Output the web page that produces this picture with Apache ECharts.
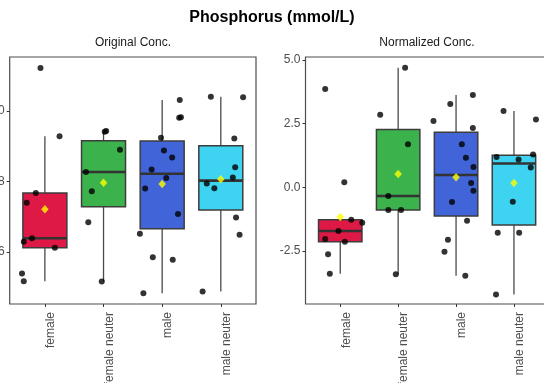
<!DOCTYPE html>
<html>
<head>
<meta charset="utf-8">
<title>Phosphorus (mmol/L)</title>
<script src="https://cdn.jsdelivr.net/npm/echarts@6/dist/echarts.min.js"></script>
<style>
  html, body { margin: 0; padding: 0; background: #fff; }
  #chart { width: 544px; height: 383px; }
</style>
</head>
<body>
<div id="chart"></div>
<script>
// Groups shown on both panels
const categories = ['female', 'female neuter', 'male', 'male neuter'];
const groupColors = ['#DF1946', '#3BB24B', '#4165D8', '#3DD3F1'];

// Tick values for the two y axes
const originalTicks = [0.6, 0.8, 1.0];
const normalizedTicks = [-2.5, 0.0, 2.5, 5.0];

// Original phosphorus concentration (mmol/L), one array per group
const originalConc = [
  [1.122, 0.928, 0.767, 0.740, 0.639, 0.629, 0.612, 0.539, 0.517],
  [0.943, 0.941, 0.890, 0.827, 0.772, 0.684, 0.516],
  [1.031, 0.982, 0.981, 0.924, 0.888, 0.868, 0.834, 0.810, 0.780, 0.708, 0.652, 0.585, 0.578, 0.483],
  [1.040, 1.039, 0.922, 0.840, 0.811, 0.794, 0.781, 0.698, 0.649, 0.488]
];
// Horizontal jitter of each point (in category units)
const originalJitter = [
  [-0.075, 0.25, -0.155, -0.31, -0.22, -0.36, 0.17, -0.39, -0.36],
  [0.045, 0.02, 0.28, -0.30, -0.20, -0.26, -0.03],
  [0.30, 0.32, 0.29, -0.02, 0.03, 0.17, -0.18, 0.07, -0.29, 0.27, -0.38, -0.16, 0.18, -0.32],
  [-0.17, 0.38, 0.23, 0.245, 0.205, -0.24, -0.11, 0.26, 0.32, -0.31]
];

// Normalized concentration, one array per group
const normalizedConc = [
  [3.859, 0.196, -1.272, -1.390, -1.716, -2.030, -2.136, -2.631, -3.392],
  [4.696, 2.850, 1.688, -0.342, -0.891, -0.891, -3.416],
  [3.624, 3.270, 2.603, 2.328, 1.688, 1.163, 0.797, 0.169, -0.137, -0.577, -1.311, -2.057, -2.528, -3.471],
  [2.996, 2.662, 1.288, 1.190, 1.091, 0.777, -0.565, -1.782, -1.782, -4.209]
];
const normalizedJitter = [
  [-0.26, 0.07, 0.19, 0.38, -0.03, -0.26, 0.08, -0.21, -0.18],
  [0.12, -0.31, 0.17, -0.17, -0.17, 0.05, -0.04],
  [0.29, -0.10, -0.39, 0.29, 0.10, 0.17, 0.30, 0.26, 0.30, -0.07, 0.19, -0.14, -0.20, 0.16],
  [-0.18, 0.38, 0.33, -0.30, 0.08, 0.29, -0.02, -0.28, 0.09, -0.31]
];

const FONT = '"Liberation Sans", Arial, Helvetica, sans-serif';
const AXIS_TEXT = '#4D4D4D';
const BOX_WIDTH = 0.75;

// Quantile with linear interpolation between order statistics
function quantile(sorted, p) {
  const h = (sorted.length - 1) * p;
  const lo = Math.floor(h);
  const hi = Math.ceil(h);
  return sorted[lo] + (h - lo) * (sorted[hi] - sorted[lo]);
}

// Five-number box summary with 1.5 * IQR whiskers, plus the mean
function boxStats(values) {
  const s = values.slice().sort((a, b) => a - b);
  const q1 = quantile(s, 0.25);
  const med = quantile(s, 0.5);
  const q3 = quantile(s, 0.75);
  const iqr = q3 - q1;
  const inside = s.filter(v => v >= q1 - 1.5 * iqr && v <= q3 + 1.5 * iqr);
  const mean = s.reduce((a, b) => a + b, 0) / s.length;
  return { low: inside[0], q1, med, q3, high: inside[inside.length - 1], mean };
}

function renderBox(params, api) {
  const x = api.value(0);
  const color = groupColors[api.value(6)];
  const hi = api.coord([x, api.value(5)]);
  const q3 = api.coord([x, api.value(4)]);
  const med = api.coord([x, api.value(3)]);
  const q1 = api.coord([x, api.value(2)]);
  const lo = api.coord([x, api.value(1)]);
  const halfW = api.size([BOX_WIDTH, 0])[0] / 2;
  const cx = q3[0];
  const whisker = { stroke: '#4a4a4a', lineWidth: 1.3 };
  return {
    type: 'group',
    children: [
      { type: 'line', shape: { x1: cx, y1: hi[1], x2: cx, y2: q3[1] }, style: whisker },
      { type: 'line', shape: { x1: cx, y1: q1[1], x2: cx, y2: lo[1] }, style: whisker },
      {
        type: 'rect',
        shape: { x: cx - halfW, y: q3[1], width: halfW * 2, height: q1[1] - q3[1] },
        style: { fill: color, stroke: '#3d3d3d', lineWidth: 1.5 }
      },
      {
        type: 'line',
        shape: { x1: cx - halfW, y1: med[1], x2: cx + halfW, y2: med[1] },
        style: { stroke: '#333333', lineWidth: 2.6 }
      }
    ]
  };
}

function panelSeries(values, jitter, axisIndex) {
  const boxData = [];
  const meanData = [];
  const pointData = [];
  values.forEach((group, g) => {
    const st = boxStats(group);
    boxData.push([g + 1, st.low, st.q1, st.med, st.q3, st.high, g]);
    meanData.push([g + 1, st.mean]);
    group.forEach((v, i) => pointData.push([g + 1 + jitter[g][i], v]));
  });
  return [
    {
      type: 'custom',
      xAxisIndex: axisIndex,
      yAxisIndex: axisIndex,
      renderItem: renderBox,
      data: boxData,
      z: 2,
      clip: true
    },
    {
      type: 'scatter',
      xAxisIndex: axisIndex,
      yAxisIndex: axisIndex,
      data: pointData,
      symbol: 'circle',
      symbolSize: 6,
      itemStyle: { color: '#000000' },
      z: 3,
      clip: true
    },
    {
      type: 'scatter',
      xAxisIndex: axisIndex,
      yAxisIndex: axisIndex,
      data: meanData,
      symbol: 'diamond',
      symbolSize: [7.5, 8.5],
      itemStyle: { color: '#FFFF00' },
      z: 4
    }
  ];
}

function xAxisFor(gridIndex) {
  return {
    type: 'value',
    gridIndex,
    position: 'bottom',
    min: 0.4,
    max: 4.6,
    axisLine: { show: false, onZero: false },
    splitLine: { show: false },
    axisTick: {
      show: true, length: 3, customValues: [1, 2, 3, 4],
      lineStyle: { color: '#333333', width: 1 }
    },
    axisLabel: {
      customValues: [1, 2, 3, 4],
      rotate: 90,
      margin: 8,
      verticalAlign: 'top',
      color: AXIS_TEXT,
      fontFamily: FONT,
      fontSize: 12,
      formatter: v => categories[Math.round(v) - 1]
    }
  };
}

function yAxisFor(gridIndex, min, max, ticks) {
  return {
    type: 'value',
    gridIndex,
    position: 'left',
    min,
    max,
    axisLine: { show: false, onZero: false },
    splitLine: { show: false },
    axisTick: {
      show: true, length: 3, customValues: ticks,
      lineStyle: { color: '#333333', width: 1 }
    },
    axisLabel: {
      customValues: ticks,
      margin: 5,
      color: AXIS_TEXT,
      fontFamily: FONT,
      fontSize: 12,
      formatter: v => v.toFixed(1)
    }
  };
}

const chart = echarts.init(document.getElementById('chart'), null, { renderer: 'canvas' });

const option = {
  animation: false,
  backgroundColor: '#ffffff',
  title: [
    {
      text: 'Phosphorus (mmol/L)',
      left: 'center',
      top: 10,
      padding: 0,
      textStyle: { fontFamily: FONT, fontSize: 16, fontWeight: 'bold', color: '#000000' }
    },
    {
      text: 'Original Conc.',
      left: 133,
      textAlign: 'center',
      top: 37,
      padding: 0,
      textStyle: { fontFamily: FONT, fontSize: 12, fontWeight: 'normal', color: '#1a1a1a' }
    },
    {
      text: 'Normalized Conc.',
      left: 427,
      textAlign: 'center',
      top: 37,
      padding: 0,
      textStyle: { fontFamily: FONT, fontSize: 12, fontWeight: 'normal', color: '#1a1a1a' }
    }
  ],
  grid: [
    {
      left: 9.7, top: 57, width: 246.3, height: 247,
      show: true, backgroundColor: '#ffffff', borderColor: '#4d4d4d', borderWidth: 1.2,
      containLabel: false, outerBoundsMode: 'none'
    },
    {
      left: 305.5, top: 57, width: 243.2, height: 247,
      show: true, backgroundColor: '#ffffff', borderColor: '#4d4d4d', borderWidth: 1.2,
      containLabel: false, outerBoundsMode: 'none'
    }
  ],
  xAxis: [xAxisFor(0), xAxisFor(1)],
  yAxis: [
    yAxisFor(0, 0.4525, 1.153, originalTicks),
    yAxisFor(1, -4.581, 5.118, normalizedTicks)
  ],
  series: [
    ...panelSeries(originalConc, originalJitter, 0),
    ...panelSeries(normalizedConc, normalizedJitter, 1)
  ]
};

chart.setOption(option);
</script>
</body>
</html>
